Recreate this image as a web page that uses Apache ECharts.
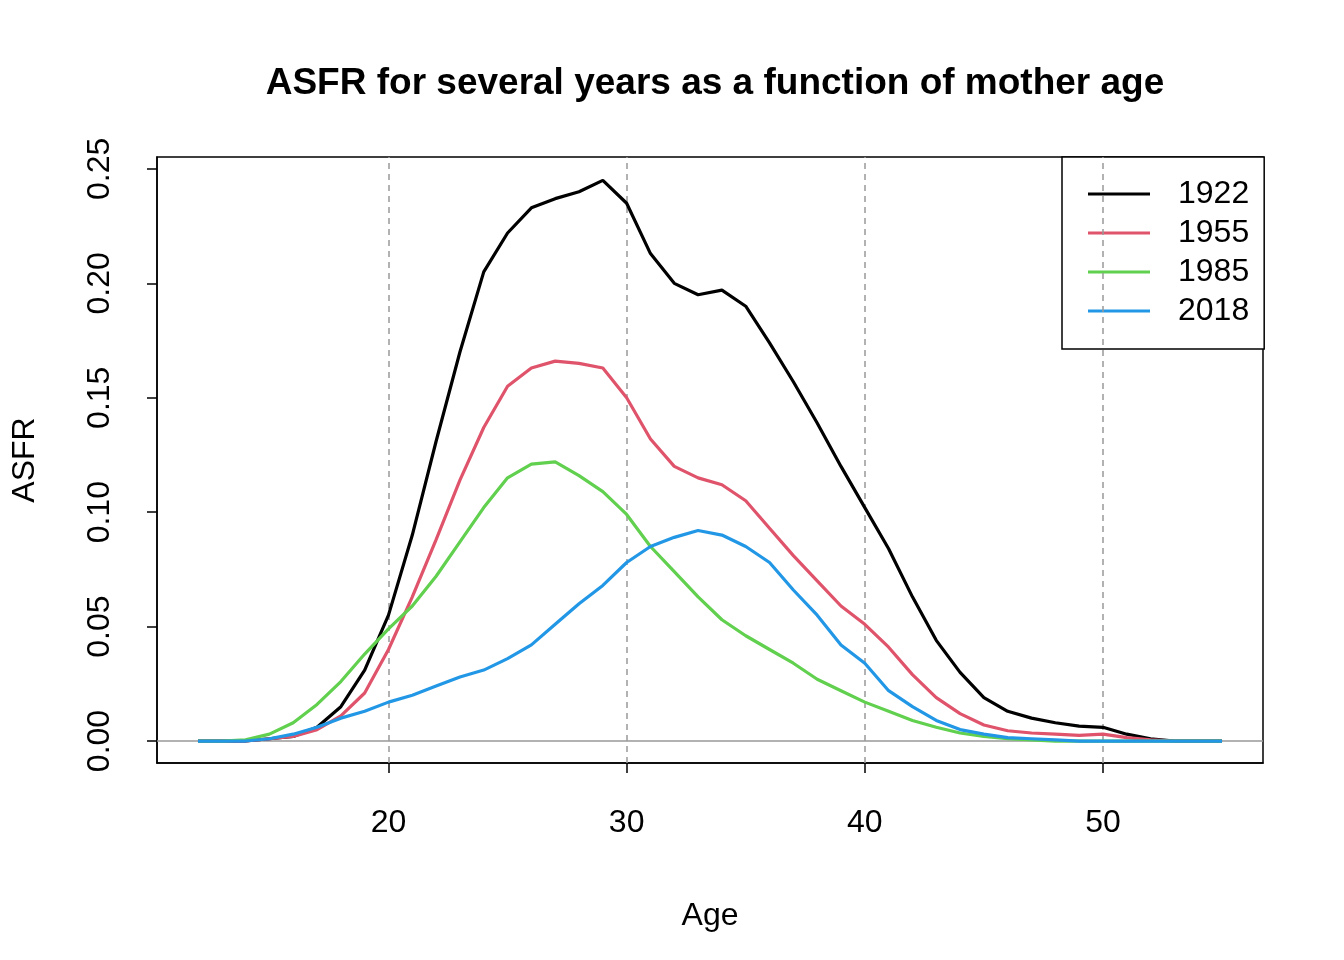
<!DOCTYPE html>
<html><head><meta charset="utf-8">
<script src="https://cdn.jsdelivr.net/npm/echarts@6/dist/echarts.min.js"></script>
<style>body{margin:0}#c{width:1344px;height:960px}</style></head>
<body><div id="c"></div>
<script>
const ages = Array.from({length:44},(_,i)=>12+i);
const years = ['1922','1955','1985','2018'];
const colors = ['#000000','#DF536B','#61D04F','#2297E6'];
const asfr1922 = [0,0,0,0.001,0.002,0.006,0.015,0.031,0.055,0.090,0.131,0.170,0.205,0.222,0.233,0.237,0.240,0.245,0.235,0.213,0.200,0.195,0.197,0.190,0.174,0.157,0.139,0.120,0.102,0.084,0.063,0.044,0.030,0.019,0.013,0.010,0.008,0.0065,0.006,0.003,0.001,0,0,0];
const asfr1955 = [0,0,0,0.001,0.002,0.005,0.011,0.021,0.040,0.063,0.088,0.114,0.137,0.155,0.163,0.166,0.165,0.163,0.150,0.132,0.120,0.115,0.112,0.105,0.093,0.081,0.070,0.059,0.051,0.041,0.029,0.019,0.012,0.007,0.0045,0.0035,0.003,0.0025,0.003,0.0015,0.0005,0,0,0];
const asfr1985 = [0,0,0.0005,0.003,0.008,0.016,0.026,0.038,0.049,0.059,0.072,0.087,0.102,0.115,0.121,0.122,0.116,0.109,0.099,0.085,0.074,0.063,0.053,0.046,0.040,0.034,0.027,0.022,0.017,0.013,0.009,0.006,0.0035,0.002,0.001,0.0005,0,0,0,0,0,0,0,0];
const asfr2018 = [0,0,0,0.001,0.003,0.006,0.010,0.013,0.017,0.020,0.024,0.028,0.031,0.036,0.042,0.051,0.060,0.068,0.078,0.085,0.089,0.092,0.090,0.085,0.078,0.066,0.055,0.042,0.034,0.022,0.015,0.009,0.005,0.003,0.0015,0.001,0.0005,0,0,0,0,0,0,0];
const xTicks = [20,30,40,50];
const yTicks = [0,0.05,0.10,0.15,0.20,0.25];
const all = [asfr1922,asfr1955,asfr1985,asfr2018];
const F = 'Liberation Sans, Arial, sans-serif';
const series = years.map((y,k)=>({
  name:y,type:'line',showSymbol:false,symbol:'none',
  data:ages.map((a,i)=>[a,all[k][i]]),
  lineStyle:{color:colors[k],width:3.2},itemStyle:{color:colors[k]},z:5
}));
series[0].markLine = {silent:true,symbol:'none',label:{show:false},animation:false,
  data:[...xTicks.map(v=>({xAxis:v,lineStyle:{color:'#999',type:[6,5],width:1.5}})),
        {yAxis:0,lineStyle:{color:'#999',type:'solid',width:1.5}}]};
const chart = echarts.init(document.getElementById('c'));
chart.setOption({
  animation:false,
  title:{text:'ASFR for several years as a function of mother age',left:710,top:60,textAlign:'center',
    textStyle:{fontFamily:F,fontSize:37,fontWeight:'bold',color:'#000'}},
  grid:{left:157,right:81,top:157,bottom:197,show:true,borderColor:'#000',borderWidth:1.5,backgroundColor:'transparent'},
  legend:{left:1062,top:157,orient:'vertical',backgroundColor:'#fff',borderColor:'#000',borderWidth:1.5,borderRadius:0,
    padding:[21,15,22,26],itemGap:7,itemWidth:62,itemHeight:3,
    icon:'path://M0,0H62V3H0Z',
    textStyle:{fontFamily:F,fontSize:32,color:'#000',padding:[0,0,0,23]},data:years},
  xAxis:{type:'value',min:10.28,max:56.72,name:'Age',nameLocation:'middle',nameGap:137,
    nameTextStyle:{fontFamily:F,fontSize:32,color:'#000'},
    axisLine:{show:true,onZero:false,lineStyle:{color:'#000',width:1.5}},splitLine:{show:false},
    axisTick:{show:true,customValues:xTicks,length:10,inside:false,lineStyle:{color:'#000',width:1.5}},
    axisLabel:{customValues:xTicks,fontFamily:F,fontSize:32,color:'#000',margin:44}},
  yAxis:{type:'value',min:-0.0096,max:0.2552,name:'ASFR',nameLocation:'middle',nameGap:116,
    nameTextStyle:{fontFamily:F,fontSize:32,color:'#000'},
    axisLine:{show:true,onZero:false,lineStyle:{color:'#000',width:1.5}},splitLine:{show:false},
    axisTick:{show:true,customValues:yTicks,length:10,inside:false,lineStyle:{color:'#000',width:1.5}},
    axisLabel:{customValues:yTicks,rotate:90,fontFamily:F,fontSize:32,color:'#000',margin:41,
      formatter:v=>v.toFixed(2)}},
  series
});
</script></body></html>
